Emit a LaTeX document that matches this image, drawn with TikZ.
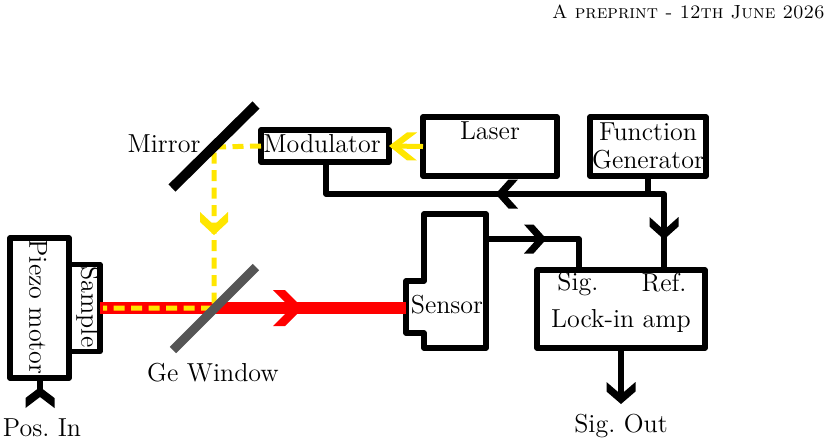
\documentclass[tikz,border=0pt]{standalone}
\usepackage{xcolor}
\usepackage{tikz}
\usetikzlibrary{decorations.markings, positioning, calc}

\definecolor{beamyellow}{RGB}{255,230,0}
\definecolor{windowgrey}{RGB}{85,85,85}

\tikzset{
	boxnode/.style={draw, line width=2.75pt, line join=round, inner sep=0pt, outer sep=0pt},
	wire/.style={line width=2.75pt, line join=round},
	txt/.style={inner sep=0pt, font=\fontsize{13}{13}\selectfont\frenchspacing},
	% position, fill options, length, half width, cut
	barb/.style n args={5}{postaction={decorate, decoration={markings, mark=at position #1 with {
		\fill[#2] (0,0) -- (-#3+#5,#4) -- (-#3,#4) -- (-#5,0) -- (-#3,-#4) -- (-#3+#5,-#4) -- cycle;}}}},
}

\begin{document}
\begin{tikzpicture}[x=0.5pt, y=-0.5pt]
	\useasboundingbox (0,0) rectangle (831,447);

	\node [anchor=east, inner sep=0pt, font=\fontsize{9.5}{9.5}\selectfont] (header) at (825,12) {\textsc{A preprint - 12th June 2026}};

	%//boxes
	\node [boxnode, minimum width=29.5pt, minimum height=70pt] (piezo) at (39.5,308) {};
	\node [boxnode, minimum width=15.5pt, minimum height=43.5pt] (sample) at (84.5,308) {};
	\node [boxnode, minimum width=64pt, minimum height=16pt] (modulator) at (325,146) {};
	\node [boxnode, minimum width=67pt, minimum height=29.5pt] (laser) at (490,146.5) {};
	\node [boxnode, minimum width=58pt, minimum height=29.5pt] (fgen) at (648,146.5) {};
	\node [boxnode, minimum width=84pt, minimum height=39pt] (lockin) at (621,309) {};
	\draw [wire] (424,214) -- (486,214) -- (486,348) -- (424,348) -- (424,333) -- (406,333) -- (406,281) -- (424,281) -- cycle;

	%//free ends of the connectors
	\coordinate (sensorin) at (406,308);
	\coordinate (sensorout) at (486,239);
	\coordinate (sigin) at (579,270);
	\coordinate (refin) at (664,270);
	\coordinate (modout) at (326,162);
	\coordinate (split) at (648,194);
	\coordinate (sigend) at (621,398);
	\coordinate (posend) at (40,392);
	\coordinate (beamstart) at (100,308);
	\coordinate (yellowend) at (103,308);
	\coordinate (mirrorhit) at (214,147);
	\coordinate (windowhit) at (214,308);

	%//beams
	\draw [red, line width=6pt, barb={101.5pt}{red}{30}{18}{12}] (beamstart) -- (sensorin);
	\draw [beamyellow, line width=2.5pt, dash pattern=on 5.5pt off 3.25pt, barb={67.5pt}{beamyellow}{23}{14}{10}] (modulator.west) -- (mirrorhit) -- (windowhit) -- (yellowend);
	\draw [beamyellow, line width=2.5pt, barb={1}{beamyellow,xshift=1.5pt}{28}{14}{10}] (laser.west) -- ($(modulator.east)+(3,0)$);

	%//mirror and window
	\coordinate (mirrora) at (172,188);
	\coordinate (mirrorb) at (256,105);
	\coordinate (windowa) at (173,350);
	\coordinate (windowb) at (256,267);
	\draw [line width=5pt] (mirrora) -- (mirrorb);
	\draw [windowgrey, line width=4.5pt] (windowa) -- (windowb);

	%//signal wires
	\draw [wire, barb={85.25pt}{black}{22.5}{14.5}{9.5}] (fgen.south) -- (split) -- (split -| modout) -- (modout);
	\draw [wire, barb={30.75pt}{black}{22.5}{14.5}{9.5}] (split) -- (split -| refin) -- (refin);
	\draw [wire, barb={30.25pt}{black}{22.5}{14.5}{9.5}] (sensorout) -- (sensorout -| sigin) -- (sigin);
	\draw [wire, barb={1}{black,xshift=3pt}{22}{14.5}{9.5}] (lockin.south) -- (sigend);
	\draw [wire, barb={2.5pt}{black}{21}{14.5}{10}] (posend) -- (posend |- piezo.south);

	%//labels
	\node [txt, rotate=-90] (piezolabel) at (38,307) {Piezo motor};
	\node [txt, rotate=-90] (samplelabel) at (88,307) {Sample};
	\node [txt] (modlabel) at (322,144) {Modulator};
	\node [txt] (laserlabel) at (490,131) {Laser};
	\node [txt, align=center] (fgenlabel) at (648,146) {Function\\[1pt]Generator};
	\node [txt] (sensorlabel) at (447,305) {Sensor};
	\node [txt] (siglabel) at (578,284) {Sig.};
	\node [txt] (reflabel) at (664,283) {Ref.};
	\node [txt] (lockinlabel) at (621,321) {Lock-in amp};
	\node [txt] (mirrorlabel) at (164,144) {Mirror};
	\node [txt] (windowlabel) at (213,373) {Ge Window};
	\node [txt] (poslabel) at (42,428) {Pos. In};
	\node [txt] (sigoutlabel) at (621,426) {Sig. Out};
\end{tikzpicture}
\end{document}
